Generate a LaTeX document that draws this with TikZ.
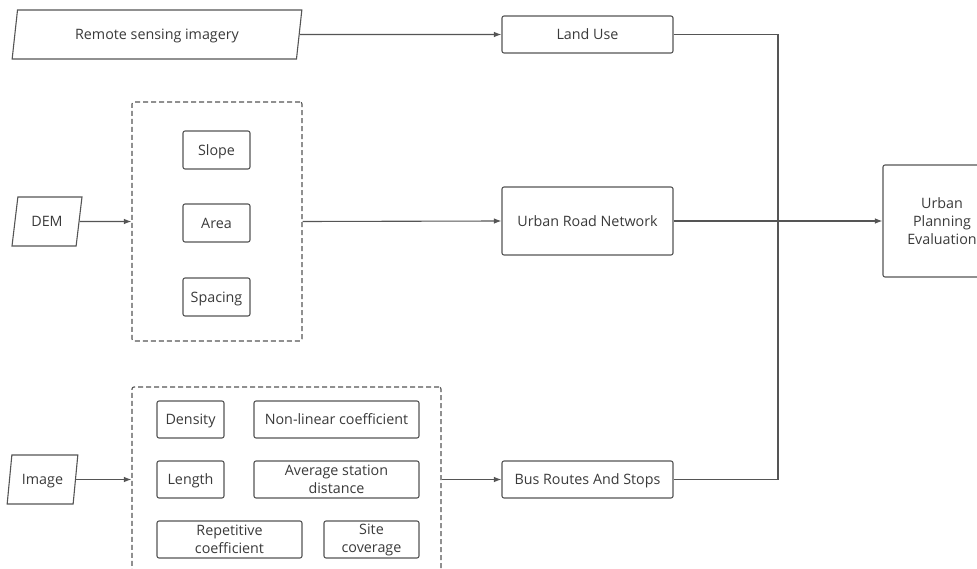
\documentclass[tikz,border=0pt]{standalone}
\usepackage{fontspec}
\setmainfont{Open Sans}
\usetikzlibrary{arrows.meta,shapes.geometric}
\definecolor{lncol}{HTML}{555555}
\definecolor{txcol}{HTML}{3a3a3a}
\begin{document}
\begin{tikzpicture}[x=1pt,y=-1pt,
  every node/.style={font=\fontsize{14.3}{18}\selectfont, text=txcol, inner sep=0pt, align=center},
  one/.style={text height=10.3pt, text depth=0pt},
  box/.style={draw=lncol, line width=1.1pt, rounded corners=2pt},
  para/.style={draw=lncol, line width=1.1pt, trapezium, trapezium left angle=73, trapezium right angle=107, trapezium stretches=true},
  grp/.style={draw=lncol, line width=1.1pt, dash pattern=on 5pt off 3pt, rounded corners=2pt},
  arr/.style={draw=lncol, line width=1.1pt, -{Latex[length=7.5pt,width=5.5pt]}},
  plain/.style={draw=lncol, line width=1.1pt}
]
\useasboundingbox (0,0) rectangle (977,569);
\clip (0,0) rectangle (977,569);
\fill[white] (0,0) rectangle (977,569);

% inputs
\node[para, one, minimum width=290pt, minimum height=49pt] (rs) at (157,34.5) {Remote sensing imagery};
\node[para, one, minimum width=70pt, minimum height=49pt] (dem) at (47,221.5) {DEM};
\node[para, one, minimum width=71pt, minimum height=49pt] (img) at (42.5,479.5) {Image};

% group 1
\node[grp, minimum width=170pt, minimum height=239pt] (g1) at (217,221.5) {};
\node[box, one, minimum width=67pt, minimum height=38pt] (slope) at (216.5,150) {Slope};
\node[box, one, minimum width=67pt, minimum height=38pt] (area) at (216.5,223) {Area};
\node[box, one, minimum width=67pt, minimum height=38pt] (spacing) at (216.5,297) {Spacing};

% group 2
\node[grp, minimum width=309pt, minimum height=188pt] (g2) at (286.5,481) {};
\node[box, one, minimum width=67pt, minimum height=37pt] (density) at (190.5,419.5) {Density};
\node[box, one, minimum width=165pt, minimum height=37pt] (nonlin) at (336.5,419.5) {Non-linear coefficient};
\node[box, one, minimum width=67pt, minimum height=37pt] (length) at (190.5,479.5) {Length};
\node[box, minimum width=165pt, minimum height=37pt] (avg) at (336.5,479.5) {Average station\\distance};
\node[box, minimum width=145pt, minimum height=37pt] (rep) at (229.5,539.5) {Repetitive\\coefficient};
\node[box, minimum width=95pt, minimum height=37pt] (site) at (371.5,539.5) {Site\\coverage};

% middle column
\node[box, one, minimum width=171pt, minimum height=37pt] (lu) at (587.5,34.5) {Land Use};
\node[box, one, minimum width=171pt, minimum height=68pt] (urn) at (587.5,221) {Urban Road Network};
\node[box, one, minimum width=171pt, minimum height=37pt] (bus) at (587.5,479.5) {Bus Routes And Stops};

% output
\node[box, minimum width=118pt, minimum height=112pt] (upe) at (942,221) {Urban\\Planning\\Evaluation};

\coordinate (j) at (778,221);

% connectors
\draw[arr] (rs.east) -- (lu.west);
\draw[arr] (dem.east) -- (g1.west);
\draw[arr] (g1.east) -- (urn.west);
\draw[arr] (img.east) -- (img.east -| g2.west);
\draw[arr] (g2.east |- bus.west) -- (bus.west);
\draw[plain] (lu.east) -| (j) |- (bus.east);
\draw[arr] (urn.east) -- (upe.west);
\end{tikzpicture}
\end{document}
